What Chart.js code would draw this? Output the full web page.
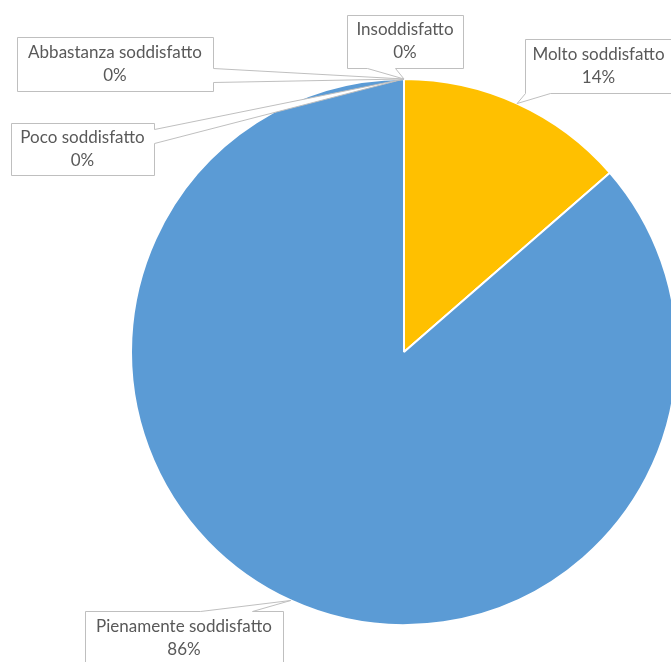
<!DOCTYPE html>
<html>
<head>
<meta charset="utf-8">
<script src="https://cdn.jsdelivr.net/npm/chart.js@4"></script>
<style>
  html, body { margin: 0; padding: 0; background: #fff; overflow: hidden; }
  #wrap { position: relative; width: 700px; height: 662px; }
</style>
</head>
<body>
<div id="wrap"><canvas id="pieChart"></canvas></div>
<script>
// data
const categories = ['Insoddisfatto', 'Poco soddisfatto', 'Abbastanza soddisfatto', 'Molto soddisfatto', 'Pienamente soddisfatto'];
const values = [0, 0, 0, 13.6, 86.4];
const sliceColors = ['#A5A5A5', '#ED7D31', '#4472C4', '#FFC000', '#5B9BD5'];

// where each callout box sits (layout only)
const calloutBoxes = [
    { x: 347, y: 15, w: 116, h: 53, side: 'bottom', a: 20, b: 48 },
    { x: 11, y: 123, w: 143, h: 52, side: 'right', a: 6, b: 20 },
    { x: 17, y: 37, w: 196, h: 54, side: 'right', a: 31, b: 45 },
    { x: 525, y: 39, w: 147, h: 54, side: 'bottom', a: 0, b: 25 },
    { x: 85, y: 611, w: 198, h: 54, side: 'top', a: 115, b: 167 }
];

const calloutPlugin = {
    id: 'callouts',
    afterDatasetsDraw(chart) {
        const ctx = chart.ctx;
        const meta = chart.getDatasetMeta(0);
        const total = values.reduce((s, v) => s + v, 0);
        ctx.save();
        meta.data.forEach((arc, i) => {
            const p = arc.getProps(['x', 'y', 'startAngle', 'endAngle', 'outerRadius'], true);
            const mid = (p.startAngle + p.endAngle) / 2;
            const tx = p.x + Math.cos(mid) * p.outerRadius;
            const ty = p.y + Math.sin(mid) * p.outerRadius;
            const b = calloutBoxes[i];
            const l = b.x + 0.5, t = b.y + 0.5, r = b.x + b.w + 0.5, btm = b.y + b.h + 0.5;

            ctx.beginPath();
            ctx.moveTo(l, t);
            if (b.side === 'top') {
                ctx.lineTo(l + b.a, t); ctx.lineTo(tx, ty); ctx.lineTo(l + b.b, t);
            }
            ctx.lineTo(r, t);
            if (b.side === 'right') {
                ctx.lineTo(r, t + b.a); ctx.lineTo(tx, ty); ctx.lineTo(r, t + b.b);
            }
            ctx.lineTo(r, btm);
            if (b.side === 'bottom') {
                ctx.lineTo(l + b.b, btm); ctx.lineTo(tx, ty); ctx.lineTo(l + b.a, btm);
            }
            ctx.lineTo(l, btm);
            if (b.side === 'left') {
                ctx.lineTo(l, t + b.b); ctx.lineTo(tx, ty); ctx.lineTo(l, t + b.a);
            }
            ctx.closePath();
            ctx.fillStyle = '#ffffff';
            ctx.fill();
            ctx.strokeStyle = '#BFBFBF';
            ctx.lineWidth = 1;
            ctx.stroke();

            const pct = Math.round(values[i] / total * 100) + '%';
            const cx = b.x + b.w / 2, cy = b.y + b.h / 2;
            ctx.fillStyle = '#595959';
            ctx.font = '17px Lato';
            ctx.textAlign = 'center';
            ctx.textBaseline = 'middle';
            ctx.fillText(categories[i], cx, cy - 11.5);
            ctx.fillText(pct, cx, cy + 11.5);
        });
        ctx.restore();
    }
};

new Chart(document.getElementById('pieChart'), {
    type: 'pie',
    data: {
        labels: categories,
        datasets: [{
            data: values,
            backgroundColor: sliceColors,
            borderColor: '#ffffff',
            borderWidth: 2
        }]
    },
    options: {
        responsive: true,
        maintainAspectRatio: false,
        animation: false,
        layout: { padding: { left: 130, right: 22, top: 78, bottom: 36 } },
        plugins: {
            legend: { display: false },
            tooltip: { enabled: false }
        }
    },
    plugins: [calloutPlugin]
});
</script>
</body>
</html>
